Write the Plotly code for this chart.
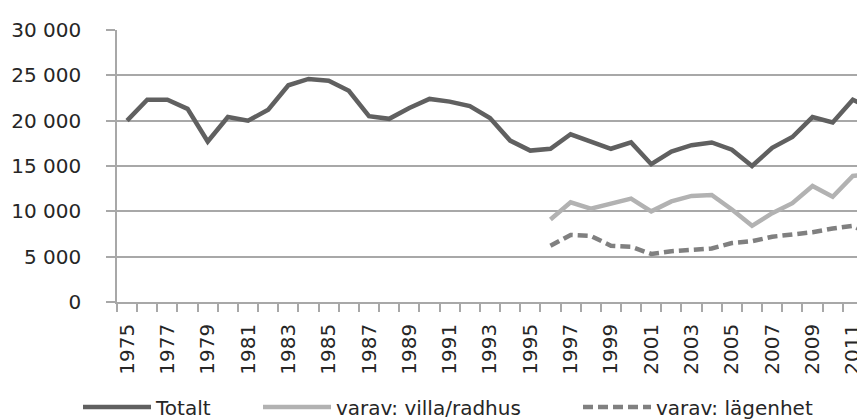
import plotly.graph_objects as go

# Years shown on the category axis
years = list(range(1975, 2013))

# Totalt
totalt = [20000, 22300, 22300, 21300, 17700, 20400, 20000, 21200, 23900, 24600,
          24400, 23300, 20500, 20200, 21400, 22400, 22100, 21600, 20300, 17800,
          16700, 16900, 18500, 17700, 16900, 17600, 15200, 16600, 17300, 17600,
          16800, 15000, 17000, 18200, 20400, 19800, 22300, 21300]

# varav: villa/radhus (from 1996)
villa_years = list(range(1996, 2013))
villa = [9100, 11000, 10300, 10900, 11400, 10000, 11100, 11700, 11800, 10200,
         8400, 9800, 10900, 12800, 11600, 13900, 14100]

# varav: lägenhet (from 1996)
lgh_years = list(range(1996, 2013))
lgh = [6200, 7400, 7300, 6200, 6100, 5300, 5600, 5800, 5900, 6500,
       6700, 7200, 7400, 7700, 8100, 8400, 7300]

label_years = [y for y in years if y % 2 == 1]
boundaries = [y - 0.5 for y in years] + [years[-1] + 0.5]

fig = go.Figure()
fig.add_trace(go.Scatter(x=years, y=totalt, mode="lines", name="Totalt",
                         line=dict(color="#606060", width=4.5), legend="legend"))
fig.add_trace(go.Scatter(x=villa_years, y=villa, mode="lines", name="varav: villa/radhus",
                         line=dict(color="#b2b2b2", width=4.5), legend="legend2"))
fig.add_trace(go.Scatter(x=lgh_years, y=lgh, mode="lines", name="varav: lägenhet",
                         line=dict(color="#808080", width=4.5, dash="10px,5px"),
                         legend="legend3"))

grid = "#a8a8a8"
leg = dict(orientation="h", xref="container", yref="container",
           xanchor="left", y=0.048, yanchor="middle",
           itemwidth=68, font=dict(size=20), bgcolor="rgba(0,0,0,0)")
fig.update_layout(
    width=865, height=419,
    margin=dict(l=109, r=0, t=22, b=125, autoexpand=False),
    paper_bgcolor="white", plot_bgcolor="white",
    font=dict(family="DejaVu Sans", size=19, color="#262626"),
    separators=", ",
    showlegend=True,
    legend=dict(leg, x=70 / 865),
    legend2=dict(leg, x=250 / 865),
    legend3=dict(leg, x=570 / 865),
)
fig.update_xaxes(
    range=[1974.5, 2012.0], tickmode="array", tickvals=label_years,
    ticktext=[str(y) for y in label_years], tickangle=-90, ticks="",
    showgrid=False, zeroline=False, showline=True, linecolor=grid, linewidth=1.5,
    minor=dict(tickmode="array", tickvals=boundaries, ticks="outside",
               ticklen=8, tickcolor=grid, tickwidth=1.5, showgrid=False),
    ticklabelstandoff=12, tickfont=dict(size=20), automargin=False,
)
fig.update_yaxes(
    range=[0, 30000], dtick=5000, tickformat=",d",
    showgrid=True, gridcolor=grid, gridwidth=1.5, zeroline=False,
    showline=True, linecolor=grid, linewidth=1.5,
    ticks="outside", ticklen=9, tickcolor=grid, tickwidth=1.5,
    ticklabelstandoff=21, tickfont=dict(size=20), automargin=False,
)

fig.write_html("out.html")
